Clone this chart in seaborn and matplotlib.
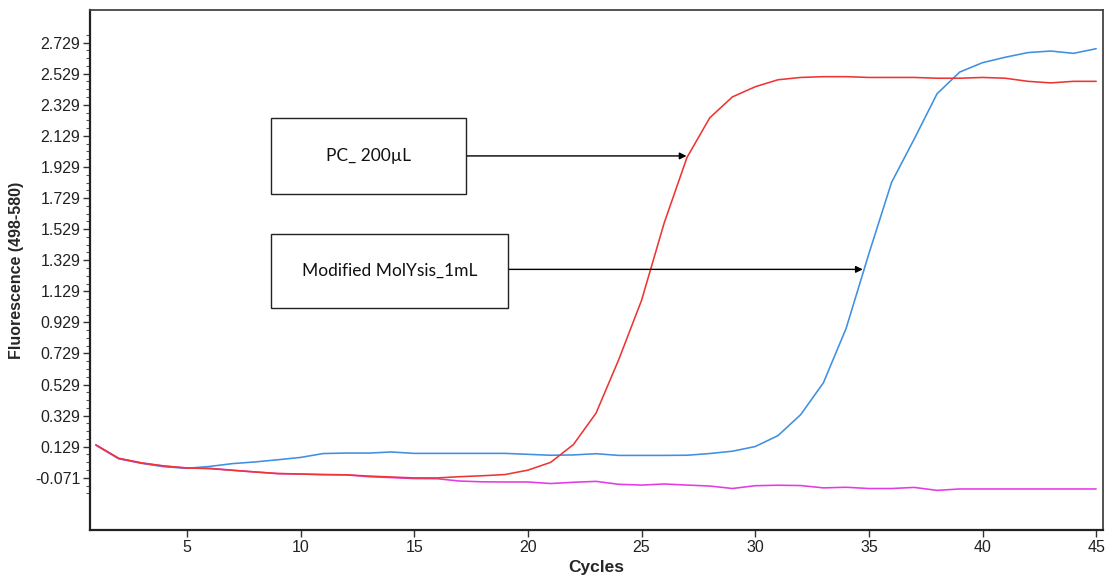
import numpy as np
import pandas as pd
import matplotlib
matplotlib.use("Agg")
import matplotlib.pyplot as plt
from matplotlib.patches import Rectangle
from matplotlib.ticker import FixedLocator, MultipleLocator
import seaborn as sns

# Amplification curves (fluorescence 498-580 per cycle)
cycles = list(range(1, 46))

pc_200ul = [0.140, 0.055, 0.025, 0.005, -0.008, -0.012, -0.023, -0.034, -0.043, -0.047,
            -0.051, -0.052, -0.060, -0.066, -0.072, -0.072, -0.064, -0.058, -0.050, -0.022,
            0.028, 0.142, 0.345, 0.690, 1.070, 1.570, 1.990, 2.245, 2.380, 2.445,
            2.490, 2.505, 2.510, 2.510, 2.505, 2.505, 2.505, 2.500, 2.500, 2.505,
            2.500, 2.480, 2.470, 2.480, 2.480]

molysis_1ml = [0.140, 0.052, 0.022, 0.000, -0.010, 0.002, 0.020, 0.031, 0.045, 0.060,
               0.085, 0.088, 0.088, 0.095, 0.086, 0.086, 0.086, 0.086, 0.086, 0.080,
               0.074, 0.076, 0.084, 0.073, 0.073, 0.073, 0.074, 0.085, 0.100, 0.130,
               0.200, 0.335, 0.540, 0.890, 1.370, 1.830, 2.110, 2.400, 2.540, 2.600,
               2.635, 2.665, 2.675, 2.660, 2.690]

negative = [0.140, 0.052, 0.024, 0.004, -0.008, -0.010, -0.022, -0.033, -0.045, -0.047,
            -0.050, -0.052, -0.064, -0.070, -0.076, -0.077, -0.092, -0.097, -0.098, -0.098,
            -0.108, -0.100, -0.094, -0.113, -0.118, -0.111, -0.118, -0.124, -0.140, -0.122,
            -0.119, -0.121, -0.136, -0.132, -0.140, -0.140, -0.133, -0.152, -0.143, -0.143,
            -0.143, -0.143, -0.143, -0.143, -0.143]

series_names = ["Modified MolYsis_1mL", "Negative", "PC_ 200µL"]
series_colors = ["#3f8fe2", "#e43ae4", "#ee3535"]

y_tick_values = [-0.071, 0.129, 0.329, 0.529, 0.729, 0.929, 1.129, 1.329,
                 1.529, 1.729, 1.929, 2.129, 2.329, 2.529, 2.729]
y_tick_labels = ["-0.071", "0.129", "0.329", "0.529", "0.729", "0.929", "1.129", "1.329",
                 "1.529", "1.729", "1.929", "2.129", "2.329", "2.529", "2.729"]
x_tick_values = [5, 10, 15, 20, 25, 30, 35, 40, 45]

# arrow target levels on the rising part of each curve
pc_arrow_level = 2.0
molysis_arrow_level = 1.27

df = pd.DataFrame({
    "Cycles": cycles * 3,
    "Fluorescence": molysis_1ml + negative + pc_200ul,
    "Sample": [series_names[0]] * 45 + [series_names[1]] * 45 + [series_names[2]] * 45,
})

sns.set_style("white")
plt.rcParams["font.family"] = ["Liberation Sans", "DejaVu Sans"]

W, H = 1106, 578
fig = plt.figure(figsize=(W / 100, H / 100), dpi=100)
ax = fig.add_axes([90 / W, 1 - 530 / H, (1103 - 90) / W, (530 - 10) / H])

sns.lineplot(data=df, x="Cycles", y="Fluorescence", hue="Sample",
             hue_order=series_names, palette=series_colors, linewidth=1.15,
             legend=False, ax=ax)

ax.set_xlim(0.74, 45.3)
ax.set_ylim(-0.407, 2.939)

ax.xaxis.set_major_locator(FixedLocator(x_tick_values))
ax.set_xticklabels([str(v) for v in x_tick_values])
ax.yaxis.set_major_locator(FixedLocator(y_tick_values))
ax.set_yticklabels(y_tick_labels)
ax.yaxis.set_minor_locator(FixedLocator(np.arange(-0.171, 2.80, 0.05)))

ax.tick_params(axis="both", which="major", direction="out", length=5, width=1,
               color="#333333", labelsize=11.5, labelcolor="#222222", pad=2,
               left=True, bottom=True)
ax.tick_params(axis="y", which="minor", direction="out", length=3, width=0.8,
               color="#555555", left=True)

for side, sp in ax.spines.items():
    sp.set_visible(True)
    sp.set_color("#222222" if side in ("left", "bottom") else "#444444")
    sp.set_linewidth(1.6 if side in ("left", "bottom") else 1.3)

ax.set_xlabel("Cycles", fontsize=12.5, fontweight="bold", labelpad=4)
ax.set_ylabel("Fluorescence (498-580)", fontsize=11.5, fontweight="bold", labelpad=8)
ax.grid(False)

# annotation boxes with arrows pointing to the curves
def box_with_arrow(text, x0, y0, x1, y1, series, level):
    rect = Rectangle((x0 / W, 1 - y1 / H), (x1 - x0) / W, (y1 - y0) / H,
                     transform=fig.transFigure, fill=True, facecolor="white",
                     edgecolor="#222222", linewidth=1.0, zorder=5)
    fig.patches.append(rect)
    fig.text((x0 + x1) / 2 / W, 1 - (y0 + y1) / 2 / H, text, ha="center", va="center",
             fontsize=12.5, family=["Lato", "DejaVu Sans"], color="#111111", zorder=6)
    vals = np.array(series)
    cyc = np.array(cycles, dtype=float)
    rise = np.argmax(vals > 0.5)
    target_x = np.interp(level, vals[rise - 2:rise + 5], cyc[rise - 2:rise + 5])
    ax.annotate("", xy=(target_x, level), xycoords="data",
                xytext=(x1 / W, level), textcoords=("figure fraction", "data"),
                arrowprops=dict(arrowstyle="-|>", color="black", lw=1.0,
                                mutation_scale=10, shrinkA=0, shrinkB=1),
                zorder=6)

box_with_arrow("PC_ 200µL", 271, 118, 466, 194, pc_200ul, pc_arrow_level)
box_with_arrow("Modified MolYsis_1mL", 271, 234, 508, 308, molysis_1ml, molysis_arrow_level)

fig.savefig("out.png", dpi=100, facecolor="white")
